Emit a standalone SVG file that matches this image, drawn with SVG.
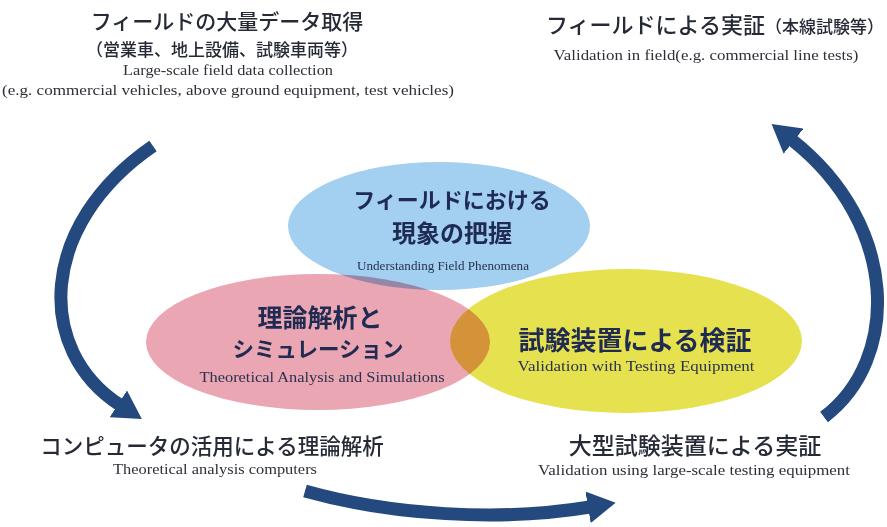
<svg xmlns="http://www.w3.org/2000/svg" width="887" height="527" viewBox="0 0 887 527">
  <defs>
    <style>
      .jp { font-family: "Noto Sans CJK JP", "Noto Sans", sans-serif; font-weight: 500; fill: #262a36; text-anchor: middle; }
      .jpb { font-family: "Noto Sans CJK JP", "Noto Sans", sans-serif; font-weight: 700; fill: #1f2b52; text-anchor: middle; }
      .en { font-family: "Liberation Serif", "DejaVu Serif", serif; fill: #2e3038; text-anchor: middle; }
      .enc { font-family: "Liberation Serif", "DejaVu Serif", serif; fill: #28324f; text-anchor: middle; }
      .blob { mix-blend-mode: multiply; }
      .arrow { fill: none; stroke: #23497f; stroke-width: 13; stroke-linecap: butt; marker-end: url(#head); }
    </style>
    <marker id="head" markerUnits="userSpaceOnUse" markerWidth="30" markerHeight="32" viewBox="0 0 30 32" refX="2" refY="16" orient="auto">
      <path d="M0,0 L28,16 L0,32 z" fill="#23497f"/>
    </marker>
  </defs>
  <rect width="887" height="527" fill="#ffffff"/>

  <g id="ellipses">
    <g id="node-field-phenomena">
      <ellipse class="blob" cx="439" cy="226" rx="151" ry="64" fill="#a3cff0"/>
    </g>
    <g id="node-theory-simulation">
      <ellipse class="blob" cx="318" cy="342" rx="172" ry="68" fill="#eba6b3"/>
    </g>
    <g id="node-testing-equipment">
      <ellipse class="blob" cx="626" cy="341" rx="176" ry="72" fill="#e6e24f"/>
    </g>
  </g>

  <g id="ellipse-labels">
    <g id="label-field-phenomena">
      <text class="jpb" x="452" y="208" font-size="22">フィールドにおける</text>
      <text class="jpb" x="452" y="242" font-size="24">現象の把握</text>
      <text class="enc" x="443" y="270" font-size="13.5" textLength="172" lengthAdjust="spacingAndGlyphs">Understanding Field Phenomena</text>
    </g>
    <g id="label-theory-simulation">
      <text class="jpb" x="320" y="327" font-size="25">理論解析と</text>
      <text class="jpb" x="318" y="357" font-size="21.5">シミュレーション</text>
      <text class="enc" x="322" y="382" font-size="14.5" textLength="245" lengthAdjust="spacingAndGlyphs">Theoretical Analysis and Simulations</text>
    </g>
    <g id="label-testing-equipment">
      <text class="jpb" x="635" y="350" font-size="26">試験装置による検証</text>
      <text class="enc" x="636" y="371" font-size="14.5" textLength="237" lengthAdjust="spacingAndGlyphs">Validation with Testing Equipment</text>
    </g>
  </g>

  <g id="node-field-data">
    <text class="jp" x="227" y="29" font-size="21">フィールドの大量データ取得</text>
    <text class="jp" x="222" y="56" font-size="17">（営業車、地上設備、試験車両等）</text>
    <text class="en" x="228" y="75" font-size="14.5" textLength="210" lengthAdjust="spacingAndGlyphs">Large-scale field data collection</text>
    <text class="en" x="228" y="95" font-size="14.5" textLength="452" lengthAdjust="spacingAndGlyphs">(e.g. commercial vehicles, above ground equipment, test vehicles)</text>
  </g>

  <g id="node-field-validation">
    <text class="jp" x="546" y="33" font-size="22" style="text-anchor:start">フィールドによる実証<tspan font-size="17">（本線試験等）</tspan></text>
    <text class="en" x="706" y="60" font-size="14.5" textLength="305" lengthAdjust="spacingAndGlyphs">Validation in field(e.g. commercial line tests)</text>
  </g>

  <g id="node-computer-analysis">
    <text class="jp" x="212" y="454" font-size="21.5">コンピュータの活用による理論解析</text>
    <text class="en" x="215" y="474" font-size="14" textLength="204" lengthAdjust="spacingAndGlyphs">Theoretical analysis computers</text>
  </g>

  <g id="node-large-scale-testing">
    <text class="jp" x="695" y="454" font-size="23">大型試験装置による実証</text>
    <text class="en" x="694" y="475" font-size="14.5" textLength="312" lengthAdjust="spacingAndGlyphs">Validation using large-scale testing equipment</text>
  </g>

  <g id="connectors">
    <path class="arrow" d="M153,146 C38,225 35,350 120,405"/>
    <path class="arrow" d="M305,491 C390,515 500,522 590,507"/>
    <path class="arrow" d="M824,417 C900,360 900,225 792,140"/>
  </g>
</svg>
